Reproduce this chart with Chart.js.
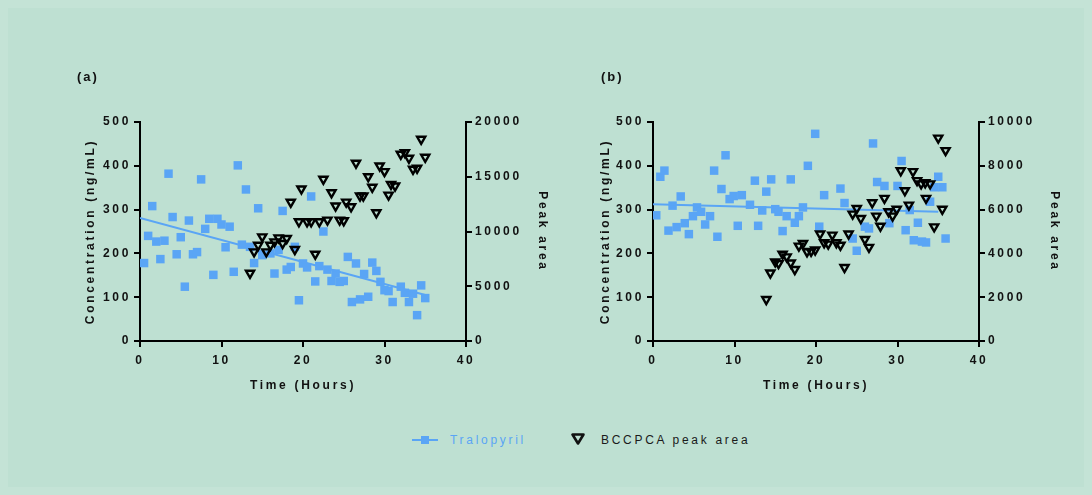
<!DOCTYPE html>
<html>
<head>
<meta charset="utf-8">
<script src="https://cdn.jsdelivr.net/npm/chart.js@4.4.1/dist/chart.umd.min.js"></script>
<style>
  html, body { margin: 0; padding: 0; }
  body { width: 1092px; height: 495px; background: #c4e3d6; position: relative; overflow: hidden;
         font-family: 'Liberation Sans', Arial, sans-serif; }
  #card { position: absolute; left: 8px; top: 8px; width: 1076px; height: 479px; background: #bee0d2; }
  canvas { position: absolute; top: 0; }
  .tag { position: absolute; top: 69px; font-weight: bold; font-size: 13px; letter-spacing: 2px; color: #111; }
  .leg { position: absolute; top: 433px; font-size: 12px; line-height: 14px; letter-spacing: 2.7px; white-space: nowrap; }
  svg { position: absolute; }
</style>
</head>
<body>
<div id="card"></div>
<canvas id="chartA" width="560" height="420" style="left:0px"></canvas>
<canvas id="chartB" width="532" height="420" style="left:560px"></canvas>
<div class="tag" style="left:77px">(a)</div>
<div class="tag" style="left:601px">(b)</div>

<svg width="30" height="12" style="left:411px;top:434px">
  <line x1="1" y1="6" x2="27" y2="6" stroke="#5aa5f5" stroke-width="2"/>
  <rect x="10" y="2" width="8" height="8" fill="#5aa5f5"/>
</svg>
<div class="leg" style="left:450px;color:#5aa5f5">Tralopyril</div>
<svg width="16" height="14" style="left:570px;top:432px">
  <polygon points="2.5,2.5 13.5,2.5 8,11.5" fill="none" stroke="#111" stroke-width="2.6" stroke-linejoin="round"/>
</svg>
<div class="leg" style="left:601px;color:#1a1a1a">BCCPCA peak area</div>

<script>
// panel (a)
const aTraloTime = [0.5, 1, 1.5, 2, 2.5, 3, 3.5, 4, 4.5, 5, 5.5, 6, 6.5, 7, 7.5, 8, 8.5, 9, 9.5, 10,
  10.5, 11, 11.5, 12, 12.5, 13, 13.5, 14, 14.5, 15, 16, 16.5, 17, 17.5, 18, 18.5, 19, 19.5, 20, 20.5,
  21, 21.5, 22, 22.5, 23, 23.5, 24, 24.5, 25, 25.5, 26, 26.5, 27, 27.5, 28, 28.5, 29, 29.5, 30, 30.5,
  31, 32, 32.5, 33, 33.5, 34, 34.5, 35];
const aTraloConc = [178, 240, 308, 227, 187, 229, 382, 283, 198, 237, 124, 275, 198, 203, 369, 256, 279, 151, 279, 266,
  214, 261, 158, 401, 220, 346, 215, 178, 303, 196, 200, 154, 208, 297, 163, 169, 215, 93, 177, 168,
  330, 136, 171, 250, 163, 137, 154, 135, 137, 192, 89, 177, 95, 153, 101, 179, 160, 135, 116, 114,
  89, 124, 110, 89, 108, 59, 127, 98];
const aPeakTime = [13.5, 14, 14.5, 15, 15.5, 16, 16.5, 17, 17.5, 18, 18.5, 19, 19.5, 19.8, 20.5, 21, 21.5, 22, 22.5, 23,
  23.5, 24, 24.5, 25, 25.3, 25.9, 26.5, 27, 27.4, 28, 28.5, 29, 29.4, 30, 30.5, 30.8, 31.3, 32, 32.5, 33,
  33.5, 34, 34.5, 35];
const aPeakArea = [6200, 8150, 8760, 9520, 8150, 8760, 9070, 9430, 8920, 9380, 12680, 8370, 10900, 13900, 10900, 10900, 7940, 10900, 14780, 11050,
  13550, 12340, 11050, 10990, 12700, 12270, 16250, 13250, 13250, 15020, 14050, 11720, 16000, 15480, 13340, 14320, 14170, 17070, 17220, 16700,
  15700, 15790, 18440, 16790];
const aFitTime = [0, 35];
const aFitConc = [281, 105];

// panel (b)
const bTraloTime = [0.4, 0.9, 1.4, 1.9, 2.4, 2.9, 3.4, 3.9, 4.4, 4.9, 5.4, 5.9, 6.4, 7, 7.5, 7.9, 8.4, 8.9, 9.4, 9.9,
  10.4, 10.9, 11.9, 12.5, 12.9, 13.4, 13.9, 14.5, 15, 15.4, 15.9, 16.4, 16.9, 17.4, 17.9, 18.4, 19, 19.9, 20.4, 21,
  23, 23.5, 24.5, 25, 26, 26.5, 27, 27.5, 28.4, 29, 30, 30.5, 31, 31.5, 32, 32.5, 33, 33.5, 34, 34.5,
  35, 35.5, 35.9];
const bTraloConc = [287, 375, 389, 252, 309, 260, 330, 269, 244, 285, 305, 295, 266, 285, 389, 238, 347, 424, 324, 331,
  263, 333, 311, 366, 263, 298, 341, 369, 301, 295, 251, 285, 369, 270, 285, 305, 400, 473, 261, 333,
  348, 315, 234, 206, 261, 257, 451, 363, 354, 269, 354, 411, 253, 299, 230, 270, 227, 225, 318, 351,
  375, 351, 234];
const bPeakTime = [13.9, 14.4, 15, 15.4, 15.9, 16.4, 16.9, 17.4, 17.9, 18.4, 18.9, 19.4, 19.9, 20.5, 21, 21.5, 22, 22.5, 23, 23.5,
  24, 24.5, 25, 25.5, 26, 26.5, 26.9, 27.4, 27.9, 28.4, 28.9, 29.4, 29.9, 30.4, 30.9, 31.4, 31.9, 32.4, 32.9, 33.4,
  33.5, 34, 34.5, 35, 35.5, 35.9];
const bPeakArea = [1900, 3110, 3620, 3540, 3970, 3850, 3570, 3270, 4340, 4460, 4080, 4100, 4160, 4890, 4490, 4430, 4840, 4490, 4380, 3360,
  4890, 5800, 6060, 5600, 4640, 4280, 6320, 5710, 5250, 6520, 5910, 5710, 6020, 7780, 6870, 6210, 7740, 7330, 7180, 7230,
  6520, 7180, 5220, 9270, 6020, 8700];
const bFitTime = [0, 35];
const bFitConc = [312, 295];

const BLUE = '#5aa5f5';
const INK = '#111';
const SPACING = '2.7px';

Chart.defaults.font.family = "'Liberation Sans', Arial, sans-serif";
Chart.defaults.font.size = 12;
Chart.defaults.font.weight = 'bold';
Chart.defaults.color = INK;

const spacing = {
  id: 'spacing',
  beforeUpdate(chart) { chart.ctx.letterSpacing = SPACING; },
  beforeLayout(chart) { chart.ctx.letterSpacing = SPACING; },
  beforeDraw(chart) { chart.ctx.letterSpacing = SPACING; }
};

function pts(xs, ys) {
  return xs.map((x, i) => ({ x: x, y: ys[i] }));
}

function axisBase() {
  return {
    type: 'linear',
    grid: { drawOnChartArea: false, drawTicks: true, tickLength: 6, color: '#000', lineWidth: 2 },
    border: { display: true, color: '#000', width: 2 },
    ticks: { color: INK, padding: 3, font: { size: 12, weight: 'bold' }, callback: v => String(v) }
  };
}

function makePanel(id, d) {
  const x = axisBase();
  x.position = 'bottom';
  x.min = 0; x.max = 40;
  x.ticks.stepSize = 10;
  x.ticks.padding = 6;
  x.title = { display: true, text: 'Time (Hours)', color: INK, font: { size: 12, weight: 'bold' }, padding: { top: 0, bottom: 27 } };
  x.afterFit = s => { s.height = 79; };

  const y = axisBase();
  y.position = 'left';
  y.min = 0; y.max = 500;
  y.ticks.stepSize = 100;
  y.title = { display: true, text: 'Concentration (ng/mL)', color: INK, font: { size: 12, weight: 'bold' }, padding: { top: d.yTitle, bottom: 0 } };
  y.afterFit = s => { s.width = d.left; };

  const y2 = axisBase();
  y2.position = 'right';
  y2.min = 0; y2.max = d.peakMax;
  y2.ticks.stepSize = d.peakStep;
  y2.title = { display: true, text: 'Peak area', color: INK, font: { size: 12, weight: 'bold' }, padding: { top: d.y2Title, bottom: 0 } };
  y2.afterFit = s => { s.width = d.right; };

  return new Chart(document.getElementById(id), {
    type: 'scatter',
    data: {
      datasets: [{
        label: 'BCCPCA peak area',
        data: pts(d.peakTime, d.peakArea),
        yAxisID: 'y2',
        pointStyle: 'triangle',
        rotation: 180,
        radius: 4.7,
        borderWidth: 2.4,
        borderColor: '#000',
        backgroundColor: 'rgba(0,0,0,0)'
      }, {
        label: 'fit',
        data: pts(d.fitTime, d.fitConc),
        yAxisID: 'y',
        showLine: true,
        radius: 0,
        borderWidth: 2,
        borderColor: BLUE
      }, {
        label: 'Tralopyril',
        data: pts(d.traloTime, d.traloConc),
        yAxisID: 'y',
        pointStyle: 'rect',
        radius: 6,
        borderWidth: 0,
        backgroundColor: BLUE,
        borderColor: BLUE
      }]
    },
    options: {
      responsive: false,
      animation: false,
      layout: { padding: { top: 122, left: 0, right: 0, bottom: 0 } },
      plugins: { legend: { display: false }, tooltip: { enabled: false } },
      scales: { x: x, y: y, y2: y2 }
    },
    plugins: [spacing]
  });
}

makePanel('chartA', {
  traloTime: aTraloTime, traloConc: aTraloConc,
  peakTime: aPeakTime, peakArea: aPeakArea,
  fitTime: aFitTime, fitConc: aFitConc,
  peakMax: 20000, peakStep: 5000,
  left: 140, right: 94, yTitle: 83, y2Title: 10
});

makePanel('chartB', {
  traloTime: bTraloTime, traloConc: bTraloConc,
  peakTime: bPeakTime, peakArea: bPeakArea,
  fitTime: bFitTime, fitConc: bFitConc,
  peakMax: 10000, peakStep: 2000,
  left: 93, right: 113, yTitle: 38, y2Title: 30
});
</script>
</body>
</html>
